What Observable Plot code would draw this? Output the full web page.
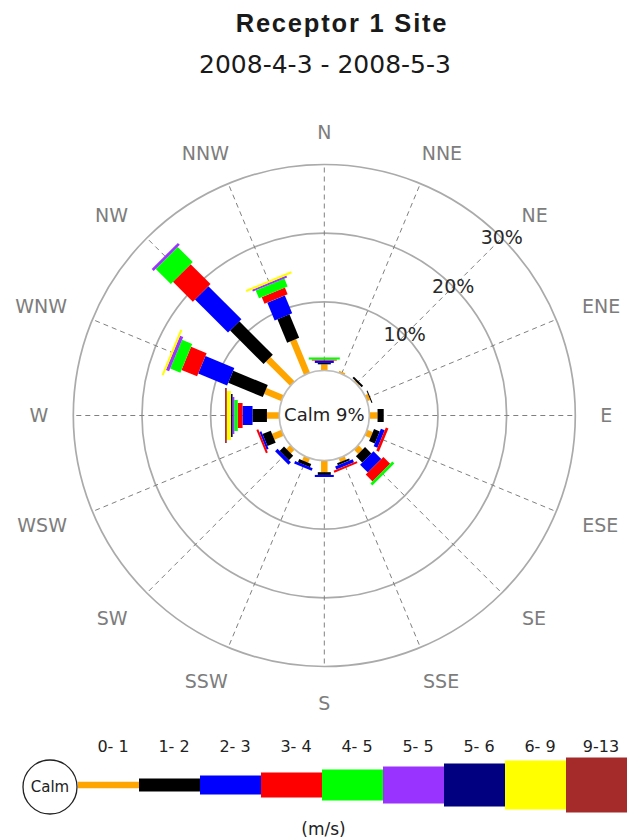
<!DOCTYPE html>
<html>
<head>
<meta charset="utf-8">
<script src="https://cdn.jsdelivr.net/npm/d3@7"></script>
<script src="https://cdn.jsdelivr.net/npm/@observablehq/plot@0.6"></script>
<style>
  html, body { margin: 0; padding: 0; background: #fff; }
  body { width: 628px; height: 839px; position: relative; overflow: hidden; }
  #title { position: absolute; left: 342px; top: 11px; transform: translateX(-50%); white-space: nowrap;
           font: bold 25.5px "Liberation Sans", Arial, sans-serif; letter-spacing: 1.8px; line-height: 1; color: #1a1a1a; }
  #subtitle { position: absolute; left: 325px; top: 52px; transform: translateX(-50%); white-space: nowrap;
           font: 25px "DejaVu Sans", sans-serif; line-height: 1; color: #1a1a1a; }
  #rose { position: absolute; left: 0; top: 90px; }
  #legend { position: absolute; left: 0; top: 730px; }
</style>
</head>
<body>
<div id="title">Receptor 1 Site</div>
<div id="subtitle">2008-4-3 - 2008-5-3</div>
<div id="rose"></div>
<div id="legend"></div>
<script>
// ---------------- DATA ----------------
const directions = ["N","NNE","NE","ENE","E","ESE","SE","SSE","S","SSW","SW","WSW","W","WNW","NW","NNW"];
const speedClasses = ["0- 1","1- 2","2- 3","3- 4","4- 5","5- 5","5- 6","6- 9","9-13"];
const calmPercent = 9;
const ringTicks = [10, 20, 30];
// frequency (%) per direction (N ... NNW) for each wind speed class (m/s)
const pct_0_1  = [0.9, 0.3, 0.2, 0.5, 1.2, 0.9, 0.9, 0.6, 1.7, 0.7, 0.8, 1.5, 1.8, 2.75, 5.0, 5.3];
const pct_1_2  = [0.2, 0,   0.3, 0.15,0.9, 0.9, 1.3, 0.3, 0.4, 0.5, 0.9, 1.3, 2.1, 5.45, 6.9, 3.7];
const pct_2_3  = [0.35,0,   0,   0,   0,   0.6, 1.6, 0.5, 0.3, 0.4, 0.5, 0.3, 1.45,4.55, 6.8, 2.8];
const pct_3_4  = [0.15,0,   0,   0,   0,   0.4, 1.4, 0.3, 0,   0,   0,   0.3, 0.7, 2.45, 4.1, 1.05];
const pct_4_5  = [0.3, 0,   0,   0,   0,   0,   0.4, 0,   0,   0,   0,   0,   0.5, 1.6,  3.1, 1.25];
const pct_5_5  = [0,   0,   0,   0,   0,   0,   0,   0,   0,   0,   0,   0,   0.25,0.5,  0.4, 0.3];
const pct_5_6  = [0,   0,   0,   0,   0,   0,   0,   0,   0,   0,   0,   0,   0.25,0,    0,   0];
const pct_6_9  = [0,   0,   0,   0,   0,   0,   0,   0,   0,   0,   0,   0,   0.6, 0.3,  0,   0.3];
const pct_9_13 = [0,   0,   0,   0,   0,   0,   0,   0,   0,   0,   0,   0,   0.25,0,    0,   0];
const series = [pct_0_1, pct_1_2, pct_2_3, pct_3_4, pct_4_5, pct_5_5, pct_5_6, pct_6_9, pct_9_13];

// ---------------- STYLE ----------------
const classColors = ["#FFA500","#000000","#0000FF","#FF0000","#00FF00","#9933FF","#000080","#FFFF00","#A52A2A"];
const classWidths = [6.5, 13, 19, 25, 31, 37, 43, 49, 55];
const calmRadius = 45, outerRadius = 251, labelRadius = 276;
const font = "DejaVu Sans";
const dirFontSize = 19;

// radial scale: percent -> radius (px units), zero at calm circle
const rad = d3.scaleLinear().domain([0, 30]).range([calmRadius, outerRadius]);
const toRad = a => a * Math.PI / 180;
const angleOf = i => i * 360 / directions.length;
const px = (p, i) => rad(p) * Math.sin(toRad(angleOf(i)));
const py = (p, i) => rad(p) * Math.cos(toRad(angleOf(i)));

// text extents for placing compass labels just outside the rose
const ctx = document.createElement("canvas").getContext("2d");
ctx.font = `${dirFontSize}px "${font}"`;
const halfW = t => ctx.measureText(t).width / 2;
const halfH = dirFontSize * 0.729 / 2;
const lx = i => {
  const a = toRad(angleOf(i)), s = Math.sin(a);
  return labelRadius * s + s * halfW(directions[i]) + Math.sign(s) * 6 * Math.abs(Math.sin(2 * a));
};
const ly = i => {
  const c = Math.cos(toRad(angleOf(i)));
  return labelRadius * c + c * halfH + (c < 0 ? 5 * c : 0);
};

// stacked segments
const segs = [];
directions.forEach((dir, i) => {
  let cum = 0;
  speedClasses.forEach((cls, k) => {
    const v = series[k][i];
    if (v > 0) segs.push({dir, i, k, p0: cum, p1: cum + v});
    cum += v;
  });
});

const dirIdx = directions.map((d, i) => i);

const rose = Plot.plot({
  width: 628, height: 640, margin: 0,
  x: {domain: [-323.8, 304.2], axis: null},
  y: {domain: [-315, 325], axis: null},
  r: {type: "identity"},
  style: {fontFamily: font, background: "transparent"},
  marks: [
    Plot.dot(ringTicks, {x: () => 0, y: () => 0, r: d => rad(d), fill: "none", stroke: "#aaaaaa", strokeWidth: 1.7}),
    Plot.link(dirIdx, {x1: i => px(0, i), y1: i => py(0, i), x2: i => px(30, i), y2: i => py(30, i),
      stroke: "#808080", strokeWidth: 1, strokeDasharray: "5,4"}),
    ...speedClasses.map((c, k) => Plot.link(segs.filter(s => s.k === k), {
      x1: s => px(s.p0, s.i), y1: s => py(s.p0, s.i), x2: s => px(s.p1, s.i), y2: s => py(s.p1, s.i),
      stroke: classColors[k], strokeWidth: classWidths[k], strokeLinecap: "butt"})),
    Plot.dot([calmPercent], {x: () => 0, y: () => 0, r: () => calmRadius, fill: "white", stroke: "#bdbdbd", strokeWidth: 1.6}),
    Plot.text([calmPercent], {x: () => 0, y: () => 0, text: d => `Calm ${d}%`, fontSize: 18, fill: "#222", fontFamily: font}),
    Plot.text(ringTicks, {x: d => rad(d) * Math.SQRT1_2, y: d => rad(d) * Math.SQRT1_2, text: d => `${d}%`,
      fontSize: 19, fill: "#2a2a2a", fontFamily: font}),
    Plot.text(dirIdx, {x: lx, y: ly, text: i => directions[i], fontSize: dirFontSize, fill: "#7d7d7d", fontFamily: font})
  ]
});
document.getElementById("rose").appendChild(rose);

const legend = Plot.plot({
  width: 628, height: 109, margin: 0,
  x: {type: "band", domain: speedClasses, range: [77, 627], padding: 0, axis: null},
  y: {domain: [-54, 55], axis: null},
  color: {type: "identity"},
  style: {fontFamily: font, background: "transparent"},
  marks: [
    Plot.barY(speedClasses, {x: d => d, y1: (d, k) => -classWidths[k] / 2, y2: (d, k) => classWidths[k] / 2,
      fill: (d, k) => classColors[k]}),
    Plot.text(speedClasses, {x: d => d, y: () => 38.5, text: d => d, dx: 4, fontSize: 16, fill: "#222", fontFamily: font}),
    Plot.dot(["Calm"], {frameAnchor: "left", dx: 49.5, dy: 2, r: 27, fill: "white", stroke: "#222", strokeWidth: 1.3}),
    Plot.text(["Calm"], {frameAnchor: "left", dx: 49.5, dy: 2, text: d => d, textAnchor: "middle", fontSize: 15, fill: "#222", fontFamily: font}),
    Plot.text(["(m/s)"], {frameAnchor: "bottom", dx: 9, dy: -5, text: d => d, fontSize: 17, fill: "#222", fontFamily: font})
  ]
});
document.getElementById("legend").appendChild(legend);
</script>
</body>
</html>
